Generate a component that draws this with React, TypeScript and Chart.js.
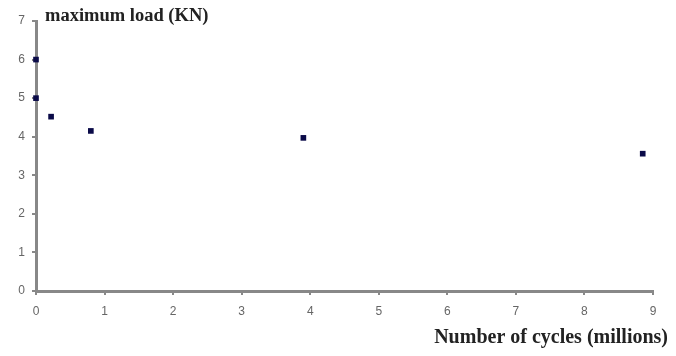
import React, { useEffect, useRef } from "react";
import { Chart, registerables } from "chart.js";

Chart.register(...registerables);

const cyclesMillions = [0, 0, 0.22, 0.8, 3.9, 8.85];
const maxLoadKN = [6, 5, 4.52, 4.15, 3.97, 3.56];
const yTitle = "maximum load (KN)";
const xTitle = "Number of cycles (millions)";

const textPlugin = {
  id: "axisTexts",
  afterDraw(chart: any) {
    const ctx = chart.ctx;
    ctx.save();
    ctx.fillStyle = "#222";
    ctx.textBaseline = "middle";
    ctx.textAlign = "left";
    ctx.font = "bold 18.5px 'Liberation Serif', 'Times New Roman', serif";
    ctx.fillText(yTitle, 45, 16);
    ctx.textAlign = "right";
    ctx.font = "bold 20px 'Liberation Serif', 'Times New Roman', serif";
    ctx.fillText(xTitle, 668, 338);
    ctx.restore();
  },
};

export default function App() {
  const ref = useRef<HTMLCanvasElement>(null);
  useEffect(() => {
    if (!ref.current) return;
    const chart = new Chart(ref.current, {
      type: "scatter",
      data: {
        datasets: [
          {
            data: cyclesMillions.map((x, i) => ({ x, y: maxLoadKN[i] })),
            pointStyle: "rect",
            pointRadius: 4,
            backgroundColor: "#0a0a48",
            borderColor: "#0a0a48",
            borderWidth: 0,
            clip: false,
          },
        ],
      },
      options: {
        animation: false,
        responsive: false,
        layout: { padding: { left: 0, top: 21, right: 23, bottom: 0 } },
        plugins: { legend: { display: false }, tooltip: { enabled: false } },
        scales: {
          x: {
            type: "linear",
            min: 0,
            max: 9,
            ticks: {
              stepSize: 1,
              color: "#666",
              font: { family: "'Liberation Sans', Arial, sans-serif", size: 12 },
              padding: 9,
              maxRotation: 0,
            },
            grid: { drawOnChartArea: false, drawTicks: true, tickLength: 4, color: "#888", lineWidth: 2 },
            border: { color: "#888", width: 3 },
            afterFit: (s: any) => {
              s.height = 65;
            },
          },
          y: {
            min: 0,
            max: 7,
            ticks: {
              stepSize: 1,
              color: "#666",
              font: { family: "'Liberation Sans', Arial, sans-serif", size: 12 },
              padding: 7,
            },
            grid: { drawOnChartArea: false, drawTicks: true, tickLength: 4, color: "#888", lineWidth: 2 },
            border: { color: "#888", width: 3 },
            afterFit: (s: any) => {
              s.width = 36;
            },
          },
        },
      },
      plugins: [textPlugin],
    });
    return () => chart.destroy();
  }, []);
  return (
    <div style={{ position: "fixed", left: 0, top: 0, width: 676, height: 356, background: "#fff" }}>
      <canvas ref={ref} width={676} height={356} />
    </div>
  );
}
